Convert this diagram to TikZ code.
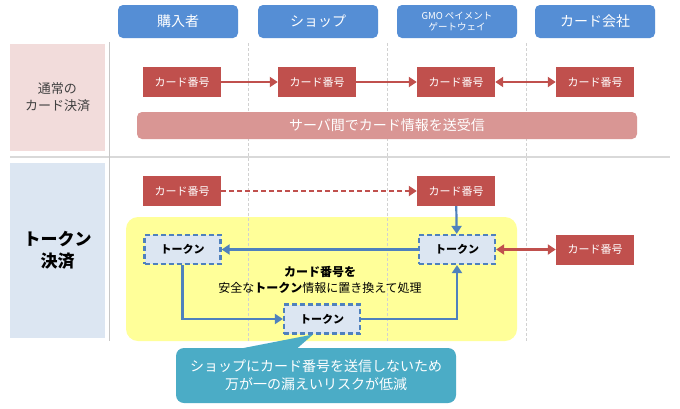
\documentclass[tikz,border=0pt]{standalone}
\usepackage{fontspec}
\setmainfont{Noto Sans CJK JP}
\usetikzlibrary{arrows.meta}

\begin{document}
\begin{tikzpicture}[x=1pt,y=-1pt,
    headbox/.style={shape=rectangle,rounded corners=5pt,fill=hdblue,text=white,minimum width=120pt,minimum height=33pt,align=center,font=\fontsize{14}{16}\selectfont},
    cardbox/.style={shape=rectangle,fill=cardred,text=white,minimum width=78pt,minimum height=30pt,font=\fontsize{11}{13}\selectfont},
    tokenbox/.style={shape=rectangle,draw=lineblue,dash pattern=on 5pt off 3pt,line width=2.2pt,fill=tokenfill,minimum width=76pt,minimum height=29pt,font=\bfseries\fontsize{11}{13}\selectfont},
    redarrow/.style={draw=cardred,line width=2.2pt,-{Triangle[length=8pt,width=10pt]}},
    bluearrow/.style={draw=lineblue,line width=2.2pt,-{Triangle[length=8pt,width=10pt]}},
    colline/.style={draw=black!18,line width=0.6pt,dash pattern=on 3pt off 2pt}]
    \definecolor{hdblue}{RGB}{85,142,213}
    \definecolor{cardred}{RGB}{192,80,77}
    \definecolor{barpink}{RGB}{217,150,148}
    \definecolor{leftpink}{RGB}{242,220,219}
    \definecolor{leftblue}{RGB}{220,230,242}
    \definecolor{tokenfill}{RGB}{220,230,242}
    \definecolor{lineblue}{RGB}{79,129,189}
    \definecolor{hlyellow}{RGB}{255,255,153}
    \definecolor{calloutteal}{RGB}{75,172,198}
    \useasboundingbox[fill=white] (0,0) rectangle (680,408);

    % backgrounds
    \fill[leftpink] (10,44) rectangle (105,151);
    \fill[leftblue] (10,163) rectangle (105,338);
    \fill[hlyellow,rounded corners=12pt] (126,217) rectangle (517,341);
    \draw[black!15,line width=2.5pt] (10,157) to (670,157);
    \draw[black!22,line width=0.8pt] (109,42) to (109,341);
    \draw[colline] (248,43) to (248,342);
    \draw[colline] (387,43) to (387,342);
    \draw[colline] (526,43) to (526,342);

    % column heads
    \node[headbox] (buyer) at (178,21.5) {購入者};
    \node[headbox] (shop) at (318,21.5) {ショップ};
    \node[headbox,font=\fontsize{9.5}{11.5}\selectfont] (gateway) at (457,21.5) {GMO ペイメント\\ゲートウェイ};
    \node[headbox] (cardco) at (595,21.5) {カード会社};

    % row labels
    \node[align=center,text=black!75,font=\fontsize{13}{17}\selectfont] (normallabel) at (57.5,97) {通常の\\カード決済};
    \node[align=center,font=\bfseries\fontsize{17}{22}\selectfont] (tokenlabel) at (57.5,250) {トークン\\決済};

    % normal payment
    \node[cardbox] (cardA) at (182,82) {カード番号};
    \node[cardbox] (cardB) at (317,82) {カード番号};
    \node[cardbox] (cardC) at (456,82) {カード番号};
    \node[cardbox] (cardD) at (595,82) {カード番号};
    \node[shape=rectangle,rounded corners=5pt,fill=barpink,text=white,minimum width=500pt,minimum height=27pt,font=\fontsize{14}{16}\selectfont] (serverbar) at (387,125.5) {サーバ間でカード情報を送受信};
    \draw[redarrow] (cardA) to (cardB);
    \draw[redarrow] (cardB) to (cardC);
    \draw[redarrow,{Triangle[length=8pt,width=10pt]}-{Triangle[length=8pt,width=10pt]}] (cardC) to (cardD);

    % token payment
    \node[cardbox] (cardE) at (182,191) {カード番号};
    \node[cardbox] (cardF) at (456,191) {カード番号};
    \node[tokenbox] (tokenA) at (182.5,249.5) {トークン};
    \node[tokenbox] (tokenB) at (457,249.5) {トークン};
    \node[tokenbox] (tokenC) at (322,319) {トークン};
    \node[cardbox] (cardG) at (595,249.5) {カード番号};
    \node[align=center,font=\fontsize{12}{16}\selectfont] (procnote) at (320,280) {{\bfseries カード番号を}\\安全な{\bfseries トークン}情報に置き換えて処理};
    \draw[redarrow,dash pattern=on 5pt off 3pt] (cardE) to (cardF);
    \draw[bluearrow] (cardF) to (tokenB);
    \draw[bluearrow] (tokenB) to (tokenA);
    \draw[bluearrow] (tokenA.south) |- (tokenC.west);
    \draw[bluearrow] (tokenC.east) -| (tokenB.south);
    \draw[redarrow,{Triangle[length=8pt,width=10pt]}-{Triangle[length=8pt,width=10pt]}] (tokenB) to (cardG);

    % callout
    \coordinate (tip) at (313,334.5);
    \fill[calloutteal] (223,352) to (tip) to (293,352) to cycle;
    \node[shape=rectangle,rounded corners=8pt,fill=calloutteal,text=white,minimum width=280pt,minimum height=55pt,align=center,font=\fontsize{14}{18}\selectfont] (callout) at (316,375.5) {ショップにカード番号を送信しないため\\万が一の漏えいリスクが低減};
\end{tikzpicture}
\end{document}
